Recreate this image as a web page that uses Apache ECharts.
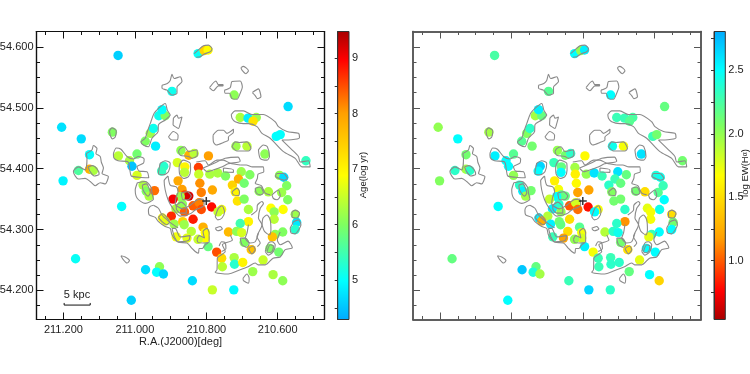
<!DOCTYPE html>
<html><head><meta charset="utf-8">
<style>html,body{margin:0;padding:0;background:#fff}#c{width:750px;height:374px}</style>
<script src="https://cdn.jsdelivr.net/npm/echarts@6/dist/echarts.min.js"></script>
</head><body><div id="c"></div>
<script>
const ra=[211.047,211.205,211.150,211.127,211.127,211.158,211.116,211.063,211.046,211.015,210.994,211.008,210.994,210.971,210.942,210.957,210.948,210.933,210.915,210.924,210.896,210.823,210.806,210.795,210.722,210.571,210.705,210.683,210.660,210.669,210.604,210.593,210.717,210.686,210.636,210.521,210.794,210.849,210.834,210.871,210.881,210.860,210.919,210.925,210.822,210.821,210.861,210.790,210.768,210.746,210.702,210.678,210.595,210.583,210.575,210.977,210.968,210.960,210.945,210.879,210.868,210.860,210.849,210.873,210.893,210.867,210.885,210.861,210.837,210.820,210.814,210.785,210.818,210.783,210.814,210.898,210.923,210.915,210.890,210.866,210.862,210.837,210.809,210.842,210.884,210.854,210.803,210.803,210.823,210.795,210.771,210.757,210.767,210.727,210.710,210.694,210.719,210.652,210.626,210.589,210.572,210.713,210.694,210.682,210.619,210.585,210.610,210.551,210.682,210.705,210.610,210.547,210.551,210.738,210.715,210.701,210.607,210.586,210.615,210.694,210.622,210.674,210.597,210.757,210.722,210.641,210.755,210.721,210.698,210.670,210.613,210.586,210.783,210.723,210.839,210.931,210.939,210.920,210.970,211.010,211.166,211.037,211.201];
const dec=[54.586,54.468,54.449,54.423,54.399,54.397,54.397,54.460,54.421,54.413,54.424,54.404,54.389,54.445,54.437,54.458,54.466,54.487,54.487,54.497,54.527,54.589,54.594,54.595,54.521,54.502,54.484,54.483,54.484,54.478,54.453,54.456,54.437,54.437,54.424,54.413,54.421,54.422,54.425,54.430,54.410,54.403,54.404,54.396,54.402,54.391,54.394,54.391,54.393,54.388,54.395,54.390,54.389,54.386,54.372,54.373,54.363,54.355,54.364,54.380,54.366,54.357,54.355,54.354,54.350,54.342,54.334,54.329,54.339,54.344,54.333,54.337,54.376,54.365,54.361,54.322,54.319,54.314,54.309,54.313,54.308,54.317,54.304,54.297,54.288,54.286,54.295,54.286,54.284,54.272,54.263,54.333,54.329,54.373,54.383,54.376,54.362,54.363,54.362,54.361,54.349,54.347,54.350,54.333,54.335,54.333,54.329,54.325,54.313,54.310,54.317,54.312,54.300,54.296,54.297,54.295,54.292,54.296,54.288,54.279,54.269,54.267,54.263,54.253,54.254,54.250,54.239,54.243,54.246,54.231,54.226,54.216,54.201,54.201,54.216,54.239,54.230,54.227,54.234,54.184,54.252,54.338,54.380];
const age=[4.6,4.75,4.7,5.0,7.8,5.6,6.3,6.0,6.4,6.3,5.9,4.5,6.6,6.0,4.85,6.2,5.1,5.1,6.0,5.0,5.1,5.05,7.4,6.9,6.1,4.7,6.3,4.85,6.2,7.2,5.0,5.0,6.2,6.4,6.1,5.4,8.0,7.8,6.4,6.1,6.6,7.0,5.3,5.4,8.6,6.5,6.4,6.3,6.3,6.0,6.2,6.0,6.1,4.7,6.0,6.3,6.0,6.3,8.3,7.9,8.0,8.5,9.2,6.2,9.0,6.1,6.3,8.4,8.4,8.2,8.5,8.9,8.1,7.9,8.2,8.7,6.9,6.7,6.2,7.4,6.2,8.8,7.8,6.4,6.8,6.7,6.9,6.9,6.5,5.8,8.5,6.8,6.5,7.4,7.8,5.9,7.0,6.1,6.3,6.2,6.0,7.2,6.0,6.3,6.9,6.9,6.1,6.2,7.0,5.5,6.4,4.8,5.3,7.7,6.1,6.6,6.1,6.0,7.6,6.0,6.0,7.6,5.9,7.3,6.3,6.5,6.4,5.3,7.0,6.2,6.3,6.1,6.5,4.95,4.7,6.1,5.0,4.65,4.7,4.6,5.05,5.0,4.9];
const ew=[2.25,2.0,2.5,2.1,1.95,2.35,2.35,1.95,2.55,2.5,2.2,2.5,2.0,2.2,2.1,2.05,2.35,1.95,2.15,2.55,2.2,2.5,2.0,2.55,2.5,2.15,2.3,2.3,2.25,2.2,2.3,2.1,2.45,1.7,2.6,2.1,1.65,2.1,2.35,2.0,2.3,2.15,2.65,2.5,1.95,1.6,2.5,2.0,2.6,2.3,2.6,2.15,2.4,2.45,2.3,2.35,2.55,1.95,2.1,1.6,1.7,2.2,2.15,2.5,1.85,2.35,2.55,2.0,1.0,1.8,1.05,0.8,1.65,1.2,1.2,1.9,2.55,1.25,2.55,2.1,2.15,1.5,2.2,1.5,2.3,1.2,1.7,1.8,2.0,2.55,1.7,1.7,2.5,2.35,2.3,2.15,2.05,2.1,1.5,2.2,2.5,2.1,2.1,2.35,1.75,2.45,1.7,1.5,1.15,2.35,1.7,2.1,2.5,1.9,2.35,2.45,2.3,2.5,1.75,2.1,2.5,1.5,2.5,2.3,2.3,1.75,2.3,2.35,2.35,2.15,2.5,1.45,2.65,2.35,2.3,2.15,2.4,1.95,2.7,2.5,2.15,2.5,2.05];

const cAx=[[0,[210.834,54.589,210.822,54.595,210.808,54.602,210.794,54.603,210.784,54.597,210.789,54.592,210.803,54.589,210.817,54.584,210.828,54.583]],
[1,[210.703,54.566,210.696,54.568,210.682,54.561,210.689,54.556,210.700,54.562]],
[1,[210.791,54.533,210.773,54.544,210.766,54.538,210.753,54.538,210.753,54.536,210.766,54.536,210.780,54.528]],
[1,[210.749,54.529,210.733,54.533,210.728,54.543,210.705,54.544,210.699,54.534,210.705,54.524,210.714,54.514,210.728,54.515,210.735,54.524,210.747,54.524]],
[1,[210.671,54.525,210.654,54.531,210.647,54.518,210.657,54.515,210.663,54.520]],
[1,[210.924,54.537,210.909,54.540,210.901,54.545,210.896,54.555,210.890,54.548,210.873,54.551,210.868,54.543,210.882,54.534,210.882,54.524,210.896,54.521,210.910,54.529,210.924,54.532]],
[1,[210.934,54.499,210.915,54.507,210.909,54.496,210.901,54.488,210.915,54.480,210.934,54.472,210.935,54.461,210.952,54.450,210.962,54.436,210.976,54.439,210.983,54.444,210.971,54.450,210.965,54.461,210.957,54.474,210.946,54.491]],
[1,[210.892,54.483,210.882,54.488,210.878,54.483,210.868,54.485,210.873,54.474,210.878,54.466,210.887,54.469,210.893,54.472]],
[1,[210.906,54.452,210.892,54.461,210.879,54.455,210.882,54.447,210.896,54.447]],
[1,[211.071,54.462,211.064,54.467,211.052,54.462,211.055,54.452,211.063,54.449,211.069,54.455]],
[1,[211.136,54.425,211.120,54.431,211.116,54.438,211.106,54.433,211.109,54.425,211.097,54.420,211.094,54.411,211.088,54.401,211.092,54.392,211.074,54.387,211.083,54.375,211.097,54.377,211.111,54.372,211.125,54.379,211.139,54.384,211.158,54.383,211.172,54.395,211.170,54.398,211.158,54.403,211.139,54.398,211.134,54.417]],
[1,[211.131,54.403,211.119,54.405,211.105,54.399,211.100,54.391,211.114,54.388,211.125,54.395]],
[1,[211.060,54.425,211.052,54.434,211.039,54.432,211.022,54.420,211.004,54.416,210.990,54.420,210.974,54.416,210.976,54.409,210.994,54.403,210.988,54.396,210.966,54.395,210.961,54.385,210.988,54.386,211.010,54.388,211.014,54.398,211.019,54.411,211.047,54.413,211.059,54.418]],
[1,[210.993,54.377,210.999,54.365,210.993,54.351,210.971,54.343,210.948,54.350,210.952,54.360,210.955,54.370,210.971,54.379]],
[1,[210.979,54.373,210.968,54.375,210.957,54.360,210.963,54.355,210.977,54.365]],
[1,[210.929,54.409,210.915,54.413,210.901,54.409,210.906,54.395,210.920,54.390,210.934,54.392]],
[1,[210.878,54.428,210.873,54.433,210.861,54.436,210.850,54.428,210.826,54.431,210.825,54.422,210.840,54.417,210.850,54.420,210.873,54.422]],
[1,[210.873,54.409,210.865,54.414,210.845,54.409,210.844,54.398,210.850,54.387,210.864,54.384,210.875,54.392,210.876,54.403]],
[1,[210.907,54.388,210.901,54.373,210.884,54.370,210.879,54.362,210.884,54.354,210.887,54.342,210.865,54.334,210.845,54.340,210.825,54.349,210.809,54.350,210.806,54.340,210.831,54.332,210.845,54.326,210.873,54.322,210.895,54.336,210.907,54.349,210.915,54.365,210.918,54.380]],
[1,[210.870,54.360,210.853,54.362,210.842,54.355,210.851,54.349,210.865,54.349]],
[1,[210.884,54.340,210.870,54.345,210.856,54.337,210.856,54.327,210.873,54.327,210.884,54.334]],
[0,[210.948,54.340,210.957,54.338,210.962,54.332,210.960,54.324,210.943,54.320,210.934,54.313,210.915,54.305,210.901,54.302,210.896,54.291,210.878,54.279,210.854,54.278,210.840,54.269,210.831,54.264,210.822,54.261,210.820,54.269,210.811,54.269,210.803,54.275,210.795,54.278]],
[0,[210.948,54.340,210.934,54.335,210.924,54.324,210.910,54.316,210.895,54.309,210.879,54.303]],
[1,[210.934,54.320,210.923,54.326,210.903,54.312,210.910,54.308,210.924,54.313]],
[1,[210.896,54.302,210.887,54.302,210.873,54.288,210.845,54.290,210.850,54.282,210.878,54.280,210.889,54.288]],
[1,[210.826,54.284,210.820,54.290,210.805,54.286,210.809,54.297,210.798,54.302,210.792,54.294,210.792,54.280,210.808,54.278,210.823,54.279]],
[1,[210.775,54.321,210.766,54.335,210.756,54.339,210.749,54.329,210.756,54.319,210.768,54.316]],
[1,[210.775,54.302,210.761,54.305,210.755,54.301,210.768,54.298]],
[0,[210.764,54.273,210.757,54.280,210.748,54.279,210.745,54.269,210.757,54.264]],
[0,[210.828,54.411,210.803,54.413,210.794,54.406,210.770,54.414,210.752,54.414,210.733,54.409,210.705,54.406]],
[1,[210.809,54.401,210.778,54.409,210.747,54.417,210.711,54.419,210.705,54.412,210.739,54.408,210.755,54.403,210.775,54.399,210.797,54.395]],
[1,[210.752,54.401,210.724,54.398,210.724,54.394,210.752,54.395]],
[0,[210.705,54.406,210.688,54.406,210.671,54.403,210.641,54.403,210.639,54.395,210.655,54.391,210.657,54.384,210.663,54.376,210.646,54.372,210.635,54.360,210.621,54.357]],
[1,[210.728,54.362,210.714,54.368,210.707,54.362,210.710,54.356,210.724,54.357]],
[1,[210.663,54.368,210.649,54.370,210.640,54.360,210.649,54.357,210.660,54.360]],
[1,[210.607,54.387,210.602,54.392,210.584,54.392,210.573,54.384,210.582,54.381]],
[1,[210.616,54.357,210.598,54.365,210.593,54.355,210.602,54.349,210.612,54.351]],
[0,[210.674,54.324,210.658,54.332,210.657,54.340,210.644,54.346,210.640,54.343,210.649,54.335,210.654,54.319,210.644,54.308,210.658,54.288,210.649,54.278,210.657,54.272]],
[0,[210.682,54.308,210.686,54.294,210.691,54.286,210.677,54.278,210.663,54.280,210.654,54.294]],
[0,[210.644,54.308,210.641,54.319,210.630,54.324,210.621,54.316,210.619,54.299,210.623,54.291,210.637,54.297,210.644,54.308]],
[0,[210.733,54.291,210.727,54.283,210.755,54.275,210.747,54.264,210.769,54.253,210.770,54.234,210.775,54.230,210.739,54.227,210.705,54.234,210.683,54.239,210.663,54.245,210.655,54.242,210.635,54.242,210.613,54.253,210.593,54.255,210.579,54.267,210.559,54.270,210.571,54.281,210.593,54.275,210.601,54.283,210.593,54.296]],
[1,[210.635,54.264,210.626,54.278,210.616,54.280,210.607,54.275,210.612,54.264,210.626,54.258]],
[1,[210.630,54.264,210.621,54.275,210.612,54.273,210.616,54.264,210.627,54.262]],
[1,[210.705,54.286,210.691,54.286,210.680,54.277,210.686,54.271,210.700,54.275]],
[1,[210.682,54.269,210.669,54.273,210.663,54.267,210.672,54.260]],
[1,[210.556,54.313,210.542,54.316,210.535,54.308,210.542,54.299,210.551,54.293,210.562,54.294,210.565,54.302,210.560,54.308]],
[1,[210.560,54.329,210.551,54.332,210.539,54.327,210.546,54.319,210.560,54.321]],
[1,[210.697,54.220,210.686,54.227,210.680,54.220,210.682,54.212,210.696,54.216]],
[1,[211.039,54.257,211.027,54.255,211.015,54.249,211.022,54.245,211.033,54.251]],
[1,[210.730,54.489,210.719,54.495,210.696,54.495,210.672,54.489,210.640,54.489,210.607,54.477,210.598,54.469,210.574,54.461,210.542,54.458,210.539,54.451,210.570,54.447,210.588,54.447,210.560,54.431,210.542,54.420,210.537,54.411,210.514,54.413,210.509,54.403,210.532,54.403,210.551,54.417,210.584,54.428,210.621,54.450,210.644,54.458,210.658,54.469,210.682,54.474,210.696,54.474,210.719,54.477,210.728,54.483]],
[1,[210.781,54.455,210.766,54.463,210.752,54.463,210.742,54.458,210.724,54.465,210.724,54.460,210.738,54.452,210.738,54.447,210.752,54.443,210.772,54.439,210.780,54.444]],
[1,[210.728,54.436,210.719,54.444,210.707,54.443,210.686,54.444,210.675,54.433,210.682,54.429,210.714,54.429]],
[1,[210.654,54.431,210.640,54.439,210.629,54.436,210.623,54.420,210.630,54.414,210.649,54.417]]];

const xMajor=[211.2,211.0,210.8,210.6];
const yMajor=[54.2,54.3,54.4,54.5,54.6];
const xMinor=[211.25,211.15,211.1,211.05,210.95,210.9,210.85,210.75,210.7,210.65,210.55,210.5];
const yMinor=[54.175,54.225,54.25,54.275,54.325,54.35,54.375,54.425,54.45,54.475,54.525,54.55,54.575];
const ageMajor=[5,6,7,8,9], ageMinor=[4.5,5.5,6.5,7.5,8.5];
const ewMajor=[1.0,1.5,2.0,2.5], ewMinor=[0.75,1.25,1.75,2.25,2.75];
const nucleus=[[210.8,54.347]];
const scaleBarX=[211.198,211.198,211.125,211.125];
const scaleBarY=[54.1795,54.176,54.176,54.1795];

const X=[210.469,211.2754], Y=[54.1523,54.6253];
const ageRange=[4.29,9.48], ewRange=[0.537,2.806];
const stops=[[0,'#00aaff'],[0.135,'#00ffff'],[0.33,'#7fff60'],[0.5,'#ffff00'],[0.715,'#ffa000'],[0.9,'#ff0000'],[1,'#a80000']];
const FONT='"Liberation Sans",Arial,sans-serif';

function hex(c){return [1,3,5].map(i=>parseInt(c.substr(i,2),16));}
function colorAt(t){
  t=Math.max(0,Math.min(1,t));
  for(let i=1;i<stops.length;i++){
    if(t<=stops[i][0]){
      const a=stops[i-1],b=stops[i],f=(t-a[0])/(b[0]-a[0]),p=hex(a[1]),q=hex(b[1]);
      return 'rgb('+p.map((v,k)=>Math.round(v+(q[k]-v)*f)).join(',')+')';
    }
  }
  return stops[stops.length-1][1];
}
const ageT=v=>(v-ageRange[0])/(ageRange[1]-ageRange[0]);
const ewT=v=>(ewRange[1]-v)/(ewRange[1]-ewRange[0]);

const grid=[],xAxis=[],yAxis=[],series=[];
function addAxes(g,dir,pos,range,inv,ticks,len,lineCol,lineW,labels){
  return {gridIndex:g,type:'value',position:pos,min:range[0],max:range[1],inverse:inv,scale:true,
    splitLine:{show:false},
    axisLine:{show:true,onZero:false,lineStyle:{color:lineCol,width:lineW}},
    axisTick:{show:true,inside:true,length:len,customValues:ticks,lineStyle:{color:lineCol,width:1}},
    axisLabel:labels?{show:true,customValues:labels,margin:dir==='x'?5:3,fontFamily:FONT,fontSize:11,color:'#222',
      formatter:v=>v.toFixed(3),hideOverlap:false,showMinLabel:true,showMaxLabel:true}:{show:false}};
}
function panel(left,lineCol,lineW,withLabels,valueOf){
  [[xMajor,yMajor,7],[xMinor,yMinor,3.5]].forEach(([xt,yt,len],k)=>{
    const g=grid.length;
    grid.push({left:left,top:31.5,width:288,height:288,containLabel:false,outerBoundsMode:'none'});
    xAxis.push(addAxes(g,'x','bottom',X,true,xt,len,lineCol,lineW,withLabels&&k===0?xMajor:null));
    xAxis.push(addAxes(g,'x','top',X,true,xt,len,lineCol,lineW,null));
    yAxis.push(addAxes(g,'y','left',Y,false,yt,len,lineCol,lineW,withLabels&&k===0?yMajor:null));
    yAxis.push(addAxes(g,'y','right',Y,false,yt,len,lineCol,lineW,null));
  });
  const xi=xAxis.length-4, yi=yAxis.length-4;
  series.push({type:'scatter',xAxisIndex:xi,yAxisIndex:yi,symbolSize:9.4,z:2,silent:true,animation:false,
    data:ra.map((r,i)=>[r,dec[i],valueOf(i)]),
    itemStyle:{opacity:1,color:p=>colorAt(p.value[2])}});
  cAx.forEach(([closed,f])=>{
    const pts=[];for(let i=0;i<f.length;i+=2)pts.push([f[i],f[i+1]]);
    if(closed)pts.push(pts[0]);
    series.push({type:'line',xAxisIndex:xi,yAxisIndex:yi,data:pts,showSymbol:false,symbol:'none',smooth:0.25,z:3,silent:true,animation:false,
      lineStyle:{color:'#8a8a8a',width:1.1}});
  });
  series.push({type:'scatter',xAxisIndex:xi,yAxisIndex:yi,data:nucleus,symbol:'path://M5 0V10M0 5H10',symbolSize:8,z:5,silent:true,animation:false,
    itemStyle:{color:'none',borderColor:'#000',borderWidth:1.5}});
  return [xi,yi];
}
function colorbar(left,range,major,minor,reverse,fmt){
  const g=grid.length;
  const cs=stops.map(s=>({offset:reverse?s[0]:1-s[0],color:s[1]})).sort((a,b)=>a.offset-b.offset);
  grid.push({left:left,top:31.5,width:11.3,height:288,show:true,borderColor:'#333',borderWidth:1,outerBoundsMode:'none',
    backgroundColor:{type:'linear',x:0,y:0,x2:0,y2:1,colorStops:cs}});
  xAxis.push({gridIndex:g,type:'value',show:false,min:0,max:1});
  yAxis.push({gridIndex:g,type:'value',position:'right',min:range[0],max:range[1],scale:true,splitLine:{show:false},
    axisLine:{show:true,lineStyle:{color:'#333',width:1}},
    axisTick:{show:true,inside:true,length:3,customValues:major.concat(minor),lineStyle:{color:'#333'}},
    axisLabel:{show:true,customValues:major,margin:3,fontFamily:FONT,fontSize:11,color:'#222',formatter:fmt,hideOverlap:false}});
}
const [lx,ly]=panel(36.5,'#111',1.2,true,i=>ageT(age[i]));
series.push({type:'line',xAxisIndex:lx,yAxisIndex:ly,data:scaleBarX.map((v,i)=>[v,scaleBarY[i]]),showSymbol:false,symbol:'none',z:4,silent:true,animation:false,smooth:false,lineStyle:{color:'#111',width:1}});
panel(413,'#555',1.5,false,i=>ewT(ew[i]));
colorbar(337.7,ageRange,ageMajor,ageMinor,false,v=>String(v));
colorbar(714,ewRange,ewMajor,ewMinor,true,v=>v.toFixed(1));

const txt=(x,y,text,size,rot,extra)=>({type:'text',x:x,y:y,rotation:rot||0,silent:true,z:10,
  style:Object.assign({text:text,fontFamily:FONT,fontSize:size,fill:'#222',textAlign:'center',textVerticalAlign:'middle'},extra||{})});
const chart=echarts.init(document.getElementById('c'),null,{renderer:'canvas'});
chart.setOption({animation:false,backgroundColor:'#fff',grid,xAxis,yAxis,series,
  graphic:[
    txt(180.5,342,'R.A.(J2000)[deg]',11),
    txt(77,294.5,'5 kpc',11),
    txt(363,175,'Age(log yr)',9.5,Math.PI/2),
    txt(745,173,'log EW(H{a|α})',9.5,Math.PI/2,{rich:{a:{fontSize:7,fontFamily:FONT,fill:'#222'}}})
  ]});
</script></body></html>
